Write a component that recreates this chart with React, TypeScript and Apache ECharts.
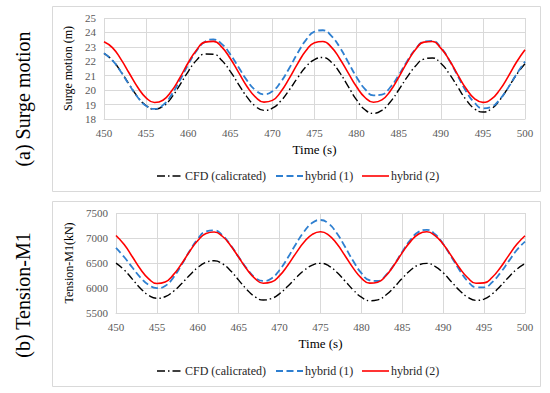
import React, { useEffect, useRef } from "react";
import * as echarts from "echarts";

const times = [
  450, 451, 452, 453, 454, 455, 456, 457, 458, 459, 460, 461, 462, 463, 464, 465, 466,
  467, 468, 469, 470, 471, 472, 473, 474, 475, 476, 477, 478, 479, 480, 481, 482, 483,
  484, 485, 486, 487, 488, 489, 490, 491, 492, 493, 494, 495, 496, 497, 498, 499, 500,
];

const seriesNames = ["CFD (calicrated)", "hybrid (1)", "hybrid (2)"];
const xTicks = { min: 450, max: 500, step: 5 };
const surgeTicks = { min: 18, max: 25, step: 1 };
const tensionTicks = { min: 5500, max: 7500, step: 500 };

// Surge motion (m)
const surgeCFD = [
  22.55, 22.07, 21.3, 20.39, 19.54, 18.93, 18.68, 18.87, 19.47, 20.35, 21.29, 22.08, 22.5,
  22.49, 22.05, 21.3, 20.39, 19.52, 18.88, 18.6, 18.75, 19.25, 20.01, 20.86, 21.63, 22.12,
  22.26, 21.94, 21.21, 20.26, 19.32, 18.64, 18.39, 18.6, 19.18, 20.01, 20.9, 21.67, 22.15,
  22.23, 21.87, 21.14, 20.23, 19.34, 18.71, 18.48, 18.7, 19.31, 20.17, 21.08, 21.83,
];
const surgeHybrid1 = [
  22.55, 22.06, 21.27, 20.36, 19.51, 18.91, 18.7, 18.96, 19.66, 20.67, 21.77, 22.73, 23.36,
  23.51, 23.19, 22.48, 21.57, 20.66, 19.99, 19.71, 19.92, 20.57, 21.52, 22.57, 23.48, 24.05,
  24.15, 23.76, 22.97, 21.94, 20.9, 20.07, 19.64, 19.69, 20.2, 21.04, 22.01, 22.85, 23.36,
  23.41, 22.96, 22.08, 21.0, 19.93, 19.13, 18.74, 18.84, 19.36, 20.17, 21.11, 21.98,
];
const surgeHybrid2 = [
  23.36, 22.95, 22.15, 21.17, 20.2, 19.47, 19.14, 19.3, 19.92, 20.85, 21.9, 22.79, 23.33,
  23.38, 22.98, 22.19, 21.21, 20.24, 19.52, 19.17, 19.29, 19.89, 20.81, 21.84, 22.74, 23.29,
  23.37, 22.98, 22.18, 21.2, 20.23, 19.49, 19.16, 19.32, 19.94, 20.89, 21.93, 22.82, 23.33,
  23.37, 22.91, 22.09, 21.08, 20.11, 19.42, 19.15, 19.37, 20.02, 20.94, 21.95, 22.8,
];

// Tension-M1 (kN)
const tensionCFD = [
  6497, 6362, 6178, 5992, 5853, 5794, 5825, 5930, 6083, 6255, 6410, 6513, 6545, 6486, 6346,
  6157, 5968, 5824, 5761, 5789, 5887, 6034, 6202, 6352, 6457, 6493, 6444, 6316, 6141, 5961,
  5816, 5746, 5763, 5861, 6015, 6194, 6354, 6461, 6492, 6434, 6303, 6127, 5951, 5816, 5753,
  5779, 5883, 6038, 6217, 6376, 6488,
];
const tensionHybrid1 = [
  6802, 6620, 6409, 6208, 6061, 5997, 6040, 6207, 6458, 6738, 6982, 7131, 7153, 7055, 6861,
  6619, 6387, 6210, 6141, 6192, 6360, 6604, 6882, 7128, 7303, 7360, 7286, 7093, 6824, 6540,
  6296, 6155, 6140, 6256, 6467, 6725, 6964, 7123, 7163, 7074, 6881, 6623, 6357, 6137, 6016,
  6013, 6118, 6305, 6533, 6759, 6928,
];
const tensionHybrid2 = [
  7050, 6868, 6625, 6375, 6182, 6089, 6119, 6262, 6480, 6730, 6950, 7092, 7121, 7035, 6851,
  6614, 6375, 6187, 6095, 6118, 6248, 6456, 6698, 6919, 7072, 7125, 7059, 6884, 6646, 6398,
  6199, 6097, 6115, 6245, 6460, 6708, 6928, 7080, 7124, 7048, 6874, 6642, 6401, 6205, 6096,
  6102, 6215, 6411, 6648, 6873, 7045,
];

const SERIF = "Liberation Serif";
const GRID_COLOR = "#d9d9d9";
const TICK_COLOR = "#595959";

const lineStyles = [
  { color: "#000000", width: 1.4, type: [8, 3, 1.5, 3] as number[] },
  { color: "#2E7FD0", width: 1.8, type: [7, 3.5] as number[] },
  { color: "#FF0000", width: 1.6, type: "solid" as any },
];

function pairs(vals: number[]) {
  return times.map((t, i) => [t, vals[i]]);
}

function legendGraphics(cy: number) {
  const items = [
    { x1: 157, x2: 183, tx: 185 },
    { x1: 276, x2: 303, tx: 305 },
    { x1: 362, x2: 389, tx: 391 },
  ];
  const out: any[] = [];
  items.forEach((it, i) => {
    const ls = lineStyles[i];
    out.push({
      type: "line",
      shape: { x1: it.x1, y1: cy, x2: it.x2, y2: cy },
      style: {
        stroke: ls.color,
        lineWidth: ls.width,
        lineDash: Array.isArray(ls.type) ? ls.type : null,
      },
    });
    out.push({
      type: "text",
      x: it.tx,
      y: cy,
      style: {
        text: seriesNames[i],
        fontFamily: SERIF,
        fontSize: 12,
        fill: "#262626",
        align: "left",
        verticalAlign: "middle",
      },
    });
  });
  return out;
}

export default function App() {
  const ref = useRef<HTMLDivElement>(null);

  useEffect(() => {
    if (!ref.current) return;
    const chart = echarts.init(ref.current, undefined, { renderer: "svg" });

    const xAxisBase = (gridIndex: number) => ({
      type: "value",
      gridIndex,
      min: xTicks.min,
      max: xTicks.max,
      interval: xTicks.step,
      name: "Time (s)",
      nameLocation: "middle",
      nameGap: 24,
      nameTextStyle: { fontFamily: SERIF, fontSize: 13, color: "#000" },
      axisLine: { show: true, lineStyle: { color: GRID_COLOR, width: 1 } },
      axisTick: { show: false },
      axisLabel: { fontFamily: SERIF, fontSize: 11, color: TICK_COLOR, margin: 8 },
      splitLine: { show: true, lineStyle: { color: GRID_COLOR, width: 1 } },
    });

    const yAxisBase = (gridIndex: number, ticks: any, name: string, nameGap: number) => ({
      type: "value",
      gridIndex,
      min: ticks.min,
      max: ticks.max,
      interval: ticks.step,
      name,
      nameLocation: "middle",
      nameRotate: 90,
      nameGap,
      nameTextStyle: { fontFamily: SERIF, fontSize: 12, color: "#000" },
      axisLine: { show: false },
      axisTick: { show: false },
      axisLabel: {
        fontFamily: SERIF,
        fontSize: 11,
        color: TICK_COLOR,
        margin: 8,
        formatter: (v: number) => String(v),
      },
      splitLine: { show: true, lineStyle: { color: GRID_COLOR, width: 1 } },
    });

    const data = [
      [surgeCFD, surgeHybrid1, surgeHybrid2],
      [tensionCFD, tensionHybrid1, tensionHybrid2],
    ];

    const series: any[] = [];
    data.forEach((group, gi) => {
      group.forEach((vals, si) => {
        series.push({
          type: "line",
          name: seriesNames[si],
          xAxisIndex: gi,
          yAxisIndex: gi,
          data: pairs(vals),
          smooth: true,
          symbol: "none",
          lineStyle: lineStyles[si],
          itemStyle: { color: lineStyles[si].color },
          z: 2 + si,
        });
      });
    });

    chart.setOption({
      animation: false,
      backgroundColor: "#ffffff",
      grid: [
        { left: 104, top: 18, width: 421, height: 101 },
        { left: 116, top: 213, width: 409, height: 100 },
      ],
      xAxis: [xAxisBase(0), xAxisBase(1)],
      yAxis: [
        yAxisBase(0, surgeTicks, "Surge motion (m)", 29),
        yAxisBase(1, tensionTicks, "Tension-M1(kN)", 41),
      ],
      series,
      graphic: [
        {
          type: "rect",
          shape: { x: 52.5, y: 6.5, width: 488, height: 185 },
          style: { fill: "none", stroke: GRID_COLOR, lineWidth: 1 },
          z: -1,
        },
        {
          type: "rect",
          shape: { x: 52.5, y: 201.5, width: 488, height: 185 },
          style: { fill: "none", stroke: GRID_COLOR, lineWidth: 1 },
          z: -1,
        },
        {
          type: "text",
          x: 23,
          y: 99,
          rotation: Math.PI / 2,
          style: {
            text: "(a) Surge motion",
            fontFamily: SERIF,
            fontSize: 20,
            fill: "#000",
            align: "center",
            verticalAlign: "middle",
          },
        },
        {
          type: "text",
          x: 23,
          y: 295,
          rotation: Math.PI / 2,
          style: {
            text: "(b) Tension-M1",
            fontFamily: SERIF,
            fontSize: 20,
            fill: "#000",
            align: "center",
            verticalAlign: "middle",
          },
        },
        ...legendGraphics(176),
        ...legendGraphics(371),
      ],
    });

    return () => chart.dispose();
  }, []);

  return (
    <div
      ref={ref}
      style={{ position: "fixed", left: 0, top: 0, width: 550, height: 393, background: "#fff" }}
    />
  );
}
